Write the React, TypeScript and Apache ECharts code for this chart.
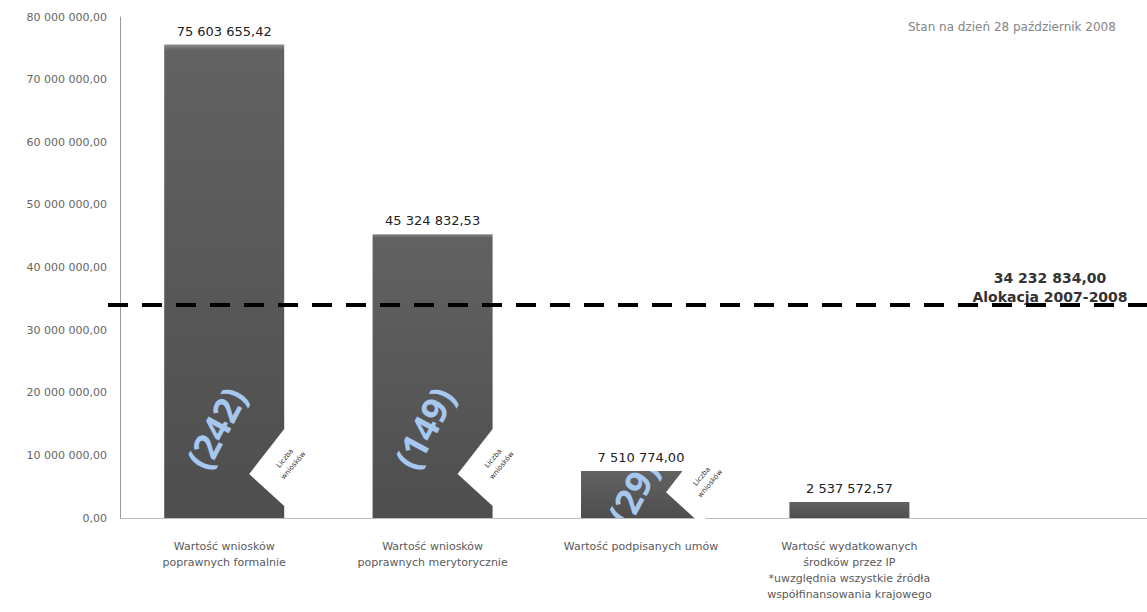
import React, { useEffect, useRef } from "react";
import * as echarts from "echarts";

const CATEGORIES = [
  "Wartość wniosków\npoprawnych formalnie",
  "Wartość wniosków\npoprawnych merytorycznie",
  "Wartość podpisanych umów",
  "Wartość wydatkowanych\nśrodków przez IP\n*uwzględnia wszystkie źródła\nwspółfinansowania krajowego",
  "",
];
const VALUES = [75603655.42, 45324832.53, 7510774.0, 2537572.57];
const COUNTS = [242, 149, 29];
const COUNT_CAPTION = "Liczba\nwniosków";
const ALLOCATION = 34232834.0;
const ALLOCATION_LABEL = "Alokacja 2007-2008";
const STATUS_TEXT = "Stan na dzień 28 październik 2008";
const Y_MAX = 80000000;
const Y_STEP = 10000000;

const FONT = "'DejaVu Sans', 'Open Sans', sans-serif";
const BAR_W = 120;

function fmt(v: number): string {
  const [i, d] = v.toFixed(2).split(".");
  return i.replace(/\B(?=(\d{3})+(?!\d))/g, " ") + "," + d;
}

export default function App() {
  const ref = useRef<HTMLDivElement>(null);
  useEffect(() => {
    if (!ref.current) return;
    const chart = echarts.init(ref.current, null, { renderer: "svg" });
    const option: any = {
      animation: false,
      backgroundColor: "#ffffff",
      textStyle: { fontFamily: FONT },
      grid: { left: 120, top: 17, bottom: 94, right: 3, containLabel: false },
      xAxis: {
        type: "category",
        data: CATEGORIES,
        axisLine: { lineStyle: { color: "#bdbdbd", width: 1 } },
        axisTick: { show: false },
        axisLabel: {
          interval: 0,
          color: "#5a5a5a",
          fontSize: 11,
          lineHeight: 16,
          margin: 20,
          fontFamily: FONT,
        },
      },
      yAxis: {
        type: "value",
        min: 0,
        max: Y_MAX,
        interval: Y_STEP,
        axisLine: { show: true, lineStyle: { color: "#9a9a9a", width: 1 } },
        axisTick: { show: false },
        splitLine: { show: false },
        axisLabel: {
          color: "#666",
          fontSize: 11,
          margin: 13,
          fontFamily: FONT,
          formatter: (v: number) => fmt(v),
        },
      },
      series: [
        {
          type: "bar",
          data: VALUES,
          barWidth: BAR_W,
          z: 2,
          itemStyle: {
            color: new echarts.graphic.LinearGradient(0, 0, 0, 1, [
              { offset: 0, color: "#8c8c8c" },
              { offset: 0.012, color: "#626262" },
              { offset: 1, color: "#4e4e4e" },
            ]),
          },
          label: {
            show: true,
            position: "top",
            distance: 7,
            color: "#222",
            fontSize: 13,
            fontFamily: FONT,
            formatter: (p: any) => fmt(p.value),
          },
        },
        {
          type: "custom",
          z: 5,
          data: COUNTS.map((c, i) => [i, VALUES[i], c]),
          encode: { x: 0, y: 1 },
          renderItem: (params: any, api: any) => {
            const i = api.value(0);
            const v = api.value(1);
            const count = api.value(2);
            const [cx, y0] = api.coord([i, 0]);
            const [, yt] = api.coord([i, v]);
            const h = y0 - yt;
            const rx = cx + BAR_W / 2;
            const vdy = Math.min(44, h * 0.55);
            const L = [rx - 35, y0 - vdy];
            const cdy = Math.min(90, h * 0.55);
            return {
              type: "group",
              children: [
                {
                  type: "group",
                  clipPath: {
                    type: "rect",
                    shape: { x: cx - BAR_W / 2, y: yt, width: BAR_W, height: h },
                  },
                  children: [
                    {
                      type: "text",
                      x: cx - 8,
                      y: y0 - cdy,
                      rotation: (62 * Math.PI) / 180,
                      style: {
                        text: "(" + count + ")",
                        fill: "#a6c8ee",
                        fontSize: 36,
                        fontWeight: "bold",
                        fontFamily: "'Open Sans', Lato, sans-serif",
                        align: "center",
                        verticalAlign: "middle",
                        shadowBlur: 5,
                        shadowColor: "rgba(210,230,255,0.9)",
                      },
                    },
                  ],
                },
                {
                  type: "polygon",
                  shape: {
                    points: [
                      [L[0], L[1]],
                      [L[0] + 35, L[1] - 45],
                      [L[0] + 70, L[1] - 13],
                      [L[0] + 35, L[1] + 32],
                    ],
                  },
                  style: { fill: "#ffffff" },
                },
                {
                  type: "text",
                  x: L[0] + 40,
                  y: L[1] - 12,
                  rotation: (50 * Math.PI) / 180,
                  style: {
                    text: COUNT_CAPTION,
                    fill: "#333",
                    fontSize: 7,
                    lineHeight: 11,
                    fontFamily: FONT,
                    align: "center",
                    verticalAlign: "middle",
                  },
                },
              ],
            };
          },
        },
      ],
    };
    chart.setOption(option);

    const yLine = chart.convertToPixel({ yAxisIndex: 0 }, ALLOCATION) as number;
    chart.setOption({
      graphic: [
        {
          type: "text",
          left: 908,
          top: 21,
          z: 100,
          style: { text: STATUS_TEXT, fill: "#858585", fontSize: 12, fontFamily: FONT },
        },
        {
          type: "text",
          x: 1050,
          y: yLine + 3,
          z: 100,
          style: {
            text: fmt(ALLOCATION) + "\n" + ALLOCATION_LABEL,
            fill: "#333",
            fontSize: 14,
            fontWeight: "bold",
            lineHeight: 19,
            fontFamily: FONT,
            align: "center",
            verticalAlign: "bottom",
          },
        },
        {
          type: "line",
          z: 101,
          shape: { x1: 108, y1: yLine + 1.5, x2: 1147, y2: yLine + 1.5 },
          style: { stroke: "#000", lineWidth: 4, lineDash: [20, 14] },
        },
      ],
    });
    return () => chart.dispose();
  }, []);
  return (
    <div
      style={{
        position: "absolute",
        left: 0,
        top: 0,
        width: 1147,
        height: 612,
        overflow: "hidden",
        background: "#fff",
      }}
    >
      <div ref={ref} style={{ width: 1165, height: 612 }} />
    </div>
  );
}
